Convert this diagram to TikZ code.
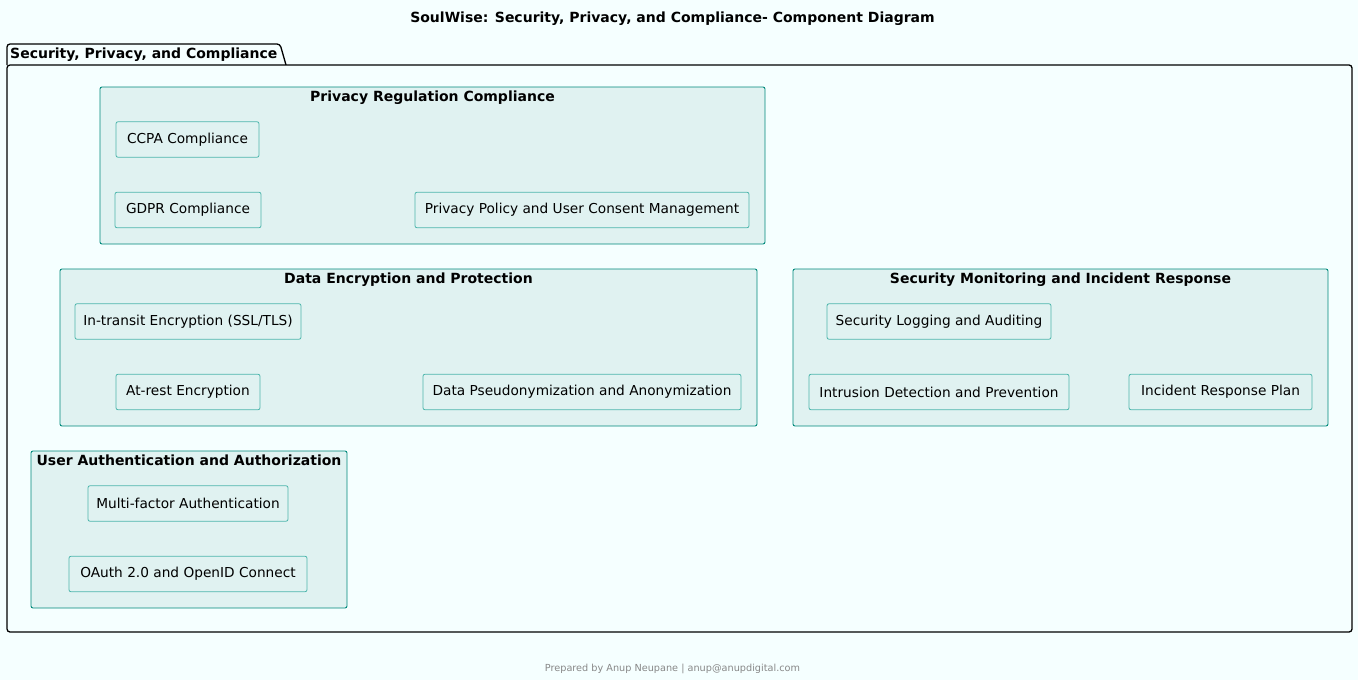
\documentclass[tikz,border=0pt]{standalone}
\usepackage{fontspec}
\setmainfont{DejaVu Sans}
\begin{document}
\definecolor{pagebg}{HTML}{F5FFFF}
\definecolor{pkgfill}{HTML}{E0F2F1}
\definecolor{pkgline}{HTML}{00897B}
\definecolor{compline}{HTML}{4DB6AC}
\definecolor{footgray}{HTML}{888888}
\begin{tikzpicture}[x=1pt,y=-1pt,
  pkg/.style={draw=pkgline,fill=pkgfill,line width=0.9pt,rounded corners=2pt,inner sep=0pt},
  pkgtitle/.style={font=\bfseries\fontsize{14}{16}\selectfont,inner sep=0pt,anchor=base},
  comp/.style={draw=compline,fill=pkgfill,line width=0.8pt,rounded corners=2pt,inner sep=0pt,
    minimum height=35.5pt,font=\fontsize{13.7}{15}\selectfont},
  outer/.style={draw=black,line width=1.3pt,rounded corners=3pt}]
\fill[pagebg] (0,0) rectangle (1358,680);
\useasboundingbox (0,0) rectangle (1358,680);

% diagram title
\node[font=\bfseries\fontsize{14}{16}\selectfont,anchor=base] (title) at (672.5,23) {SoulWise: Security, Privacy, and Compliance- Component Diagram};

% outer package: tab and body
\draw[outer,fill=pagebg] (7,65) -- (7,44) -- (280,44) -- (286,65);
\draw[outer,fill=pagebg] (7,65) rectangle (1352,632);
\node[font=\bfseries\fontsize{14}{16}\selectfont,anchor=base west,inner sep=0pt] (outertitle) at (10,58) {Security, Privacy, and Compliance};

% Privacy Regulation Compliance
\draw[pkg] (100,87) rectangle (765,244);
\node[pkgtitle] (prc) at (432.5,101) {Privacy Regulation Compliance};
\node[comp,minimum width=143pt] (ccpa) at (187.5,139.5) {CCPA Compliance};
\node[comp,minimum width=146pt] (gdpr) at (188,210) {GDPR Compliance};
\node[comp,minimum width=334pt] (ppucm) at (582,210) {Privacy Policy and User Consent Management};

% Data Encryption and Protection
\draw[pkg] (60,269) rectangle (757,426);
\node[pkgtitle] (dep) at (408.5,283) {Data Encryption and Protection};
\node[comp,minimum width=226pt] (transit) at (188,321.5) {In-transit Encryption (SSL/TLS)};
\node[comp,minimum width=144pt] (rest) at (188,392) {At-rest Encryption};
\node[comp,minimum width=318pt] (pseudo) at (582,392) {Data Pseudonymization and Anonymization};

% Security Monitoring and Incident Response
\draw[pkg] (793,269) rectangle (1328,426);
\node[pkgtitle] (smir) at (1060.5,283) {Security Monitoring and Incident Response};
\node[comp,minimum width=224pt] (logging) at (939,321.5) {Security Logging and Auditing};
\node[comp,minimum width=260pt] (intrusion) at (939,392) {Intrusion Detection and Prevention};
\node[comp,minimum width=183pt] (irp) at (1220.5,392) {Incident Response Plan};

% User Authentication and Authorization
\draw[pkg] (31,451) rectangle (347,608);
\node[pkgtitle] (uaa) at (189,465) {User Authentication and Authorization};
\node[comp,minimum width=200pt] (mfa) at (188,503.5) {Multi-factor Authentication};
\node[comp,minimum width=238pt] (oauth) at (188,574) {OAuth 2.0 and OpenID Connect};

% footer
\node[font=\fontsize{9.7}{11}\selectfont,text=footgray,anchor=base] (footer) at (672.5,671) {Prepared by Anup Neupane | anup@anupdigital.com};
\end{tikzpicture}
\end{document}
